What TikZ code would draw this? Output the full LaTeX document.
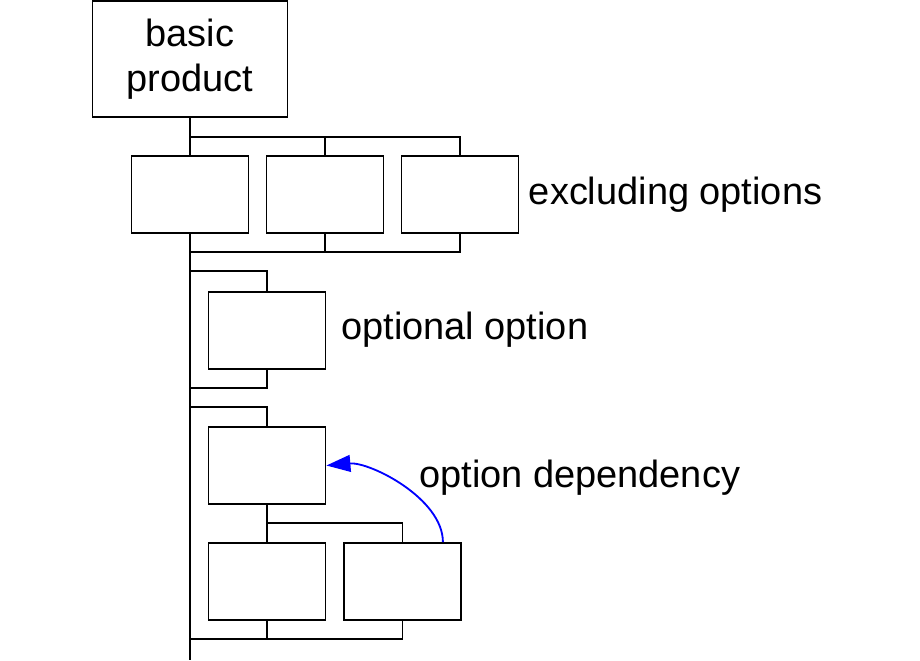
\documentclass[tikz,border=0pt]{standalone}
\usepackage{fontspec}
\setmainfont{Liberation Sans}
\usepackage{xcolor}
\usepackage{tikz}
\usetikzlibrary{positioning, arrows.meta, calc}
\definecolor{depblue}{RGB}{0,0,255}

\begin{document}
\begin{tikzpicture}[line width=1.3pt,
    every node/.style={font=\fontsize{27}{32}\selectfont},
    optbox/.style={draw, line width=1.3pt, minimum width=2.925cm, minimum height=1.925cm},
    note/.style={anchor=base west, inner sep=0pt}]
      \useasboundingbox (0,0) rectangle (23,-16.5);
      % Basic product and excluding options
      \node[draw, align=center, minimum width=4.875cm, minimum height=2.9cm] (basic) at (4.75,-1.475) {basic\\product};
      \node[optbox] (ex1) at (4.75,-4.8625) {};
      \node[optbox] (ex2) at (8.125,-4.8625) {};
      \node[optbox] (ex3) at (11.5,-4.8625) {};
      \node[note] (exlabel) at (13.2,-5.1) {excluding options};
      % Optional option
      \node[optbox] (opt) at (6.675,-8.2625) {};
      \node[note] (optlabel) at (8.51,-8.475) {optional option};
      % Option dependency
      \node[optbox] (dep) at (6.675,-11.6375) {};
      \node[optbox] (subA) at (6.675,-14.5375) {};
      \node[optbox] (subB) at (10.0625,-14.5375) {};
      \node[note] (deplabel) at (10.46,-12.175) {option dependency};
      % Rails
      \coordinate (r1) at (4.75,-3.425);
      \coordinate (r2) at (4.75,-6.3);
      \coordinate (r3) at (4.75,-6.775);
      \coordinate (r4) at (4.75,-9.7);
      \coordinate (r5) at (4.75,-10.175);
      \coordinate (r6) at (6.675,-13.075);
      \coordinate (r7) at (4.75,-15.975);
      \coordinate (bottom) at (4.75,-16.5);
      \draw (basic.south) -- (ex1.north);
      \draw (ex1.south) -- (bottom);
      \draw (r1) -| (ex3.north);
      \draw (ex2.north) -- (ex2.north |- r1);
      \draw (r2) -| (ex3.south);
      \draw (ex2.south) -- (ex2.south |- r2);
      \draw (r3) -| (opt.north);
      \draw (r4) -| (opt.south);
      \draw (r5) -| (dep.north);
      \draw (dep.south) -- (subA.north);
      \draw (r6) -| (subB.north);
      \draw (r7) -| (subB.south);
      \draw (subA.south) -- (subA.south |- r7);
      % Dependency arrow
      \draw[depblue, -{Triangle[length=0.6cm, width=0.42cm]}] ([xshift=-0.475cm]subB.north east) to[out=90, in=5, looseness=0.8] (dep.east);
    \end{tikzpicture}
\end{document}
